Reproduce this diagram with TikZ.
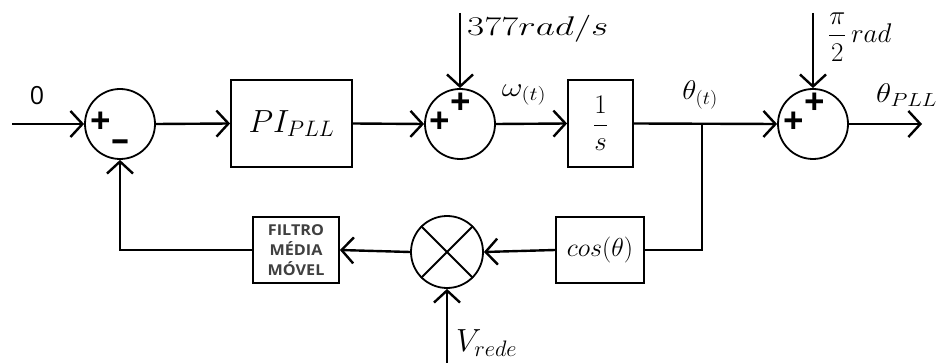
\documentclass[tikz,border=0pt]{standalone}
\usepackage{fix-cm}
\usepackage{fontspec}
\usepackage{amsmath}
\usepackage{graphicx}
\newfontfamily\osans{Open Sans}
\newcommand\hstretch[2]{\scalebox{#1}[1]{#2}}
\usetikzlibrary{arrows.meta}
\tikzset{
  conn/.style={line width=2.4pt},
  arr/.style={conn,-{Straight Barb[length=12pt,width=26pt]}},
  sumc/.style={circle,draw,line width=1.8pt,minimum size=70pt,inner sep=0pt},
  blk/.style={rectangle,draw,line width=1.8pt,inner sep=0pt},
  sgn/.style={inner sep=0pt,font=\osans\bfseries\fontsize{36}{36}\selectfont},
  mlab/.style={inner sep=0pt,font=\fontsize{27}{30}\selectfont},
}
\begin{document}
\begin{tikzpicture}[x=1pt,y=-1pt]
\useasboundingbox (0,0) rectangle (936,363);
% main row
\coordinate (in) at (12,124);
\node[inner sep=0pt,font=\osans\fontsize{25}{25}\selectfont] (zero) at (37,96) {0};
\node[sumc] (s1) at (120,124) {};
\node[blk,minimum width=121pt,minimum height=87pt] (pi) at (291.5,123.5) {\fontsize{32}{34}\selectfont$PI_{PLL}$};
\node[sumc] (s2) at (460,124) {};
\node[blk,minimum width=65pt,minimum height=87pt] (int) at (600.5,123.5) {\fontsize{27}{30}\selectfont$\dfrac{1}{s}$};
\coordinate (br) at (702,124);
\node[sumc] (s3) at (813,124) {};
\coordinate (out) at (922,124);
\coordinate (t2) at (460,13);
\coordinate (t3) at (813,13);
% bottom row
\node[blk,minimum width=86pt,minimum height=66pt,align=center,font=\osans\bfseries\fontsize{15}{20}\selectfont,text=black!75] (filt) at (296,250) {\hstretch{1.08}{FILTRO}\\\hstretch{1.08}{MÉDIA}\\\hstretch{1.08}{MÓVEL}};
\node[sumc,minimum size=72pt] (mul) at (447,252) {};
\node[blk,minimum width=88pt,minimum height=66pt] (cosb) at (600,250) {\fontsize{26}{30}\selectfont$cos(\theta)$};
\coordinate (vin) at (447,363);
\coordinate (fb) at (120,250);
\coordinate (brd) at (702,250);
% multiplier cross
\draw[line width=1.8pt] (mul.45) -- (mul.225) (mul.135) -- (mul.315);
% signs
\node[sgn] (p1) at (101,123) {+};
\node[sgn] (m1) at (120,146) {–};
\node[sgn] (p2a) at (440,123) {+};
\node[sgn] (p2b) at (461,104) {+};
\node[sgn] (p3a) at (794,123) {+};
\node[sgn] (p3b) at (815,104) {+};
% labels
\node[mlab,anchor=west] (l377) at (467,29) {\hstretch{1.38}{$377rad/s$}};
\node[mlab] (lw) at (524,95) {\hstretch{1.2}{$\omega_{(t)}$}};
\node[mlab] (lth) at (700,95) {\hstretch{1.08}{$\theta_{(t)}$}};
\node[mlab,anchor=west] (lpi) at (828,37) {$\dfrac{\pi}{2}\,rad$};
\node[mlab,anchor=west] (lpll) at (876,95) {\hstretch{1.16}{$\theta_{PLL}$}};
\node[inner sep=0pt,anchor=west,font=\fontsize{32}{34}\selectfont] (lv) at (456,343) {$V_{rede}$};
% connectors
\draw[arr] (in) -- (s1.west);
\draw[arr] (s1.east) -- (pi.west);
\draw[arr] (pi.east) -- (s2.west);
\draw[arr] (t2) -- (s2.north);
\draw[arr] (s2.east) -- (int.west);
\draw[arr] (int.east) -- (s3.west);
\draw[arr] (t3) -- (s3.north);
\draw[arr] (s3.east) -- (out);
\draw[conn] (br) -- (brd) -- (cosb.east);
\draw[arr] (cosb.west) -- (mul.east);
\draw[arr] (mul.west) -- (filt.east);
\draw[arr] (filt.west) -- (fb) -- (s1.south);
\draw[arr] (vin) -- (mul.south);
\end{tikzpicture}
\end{document}
